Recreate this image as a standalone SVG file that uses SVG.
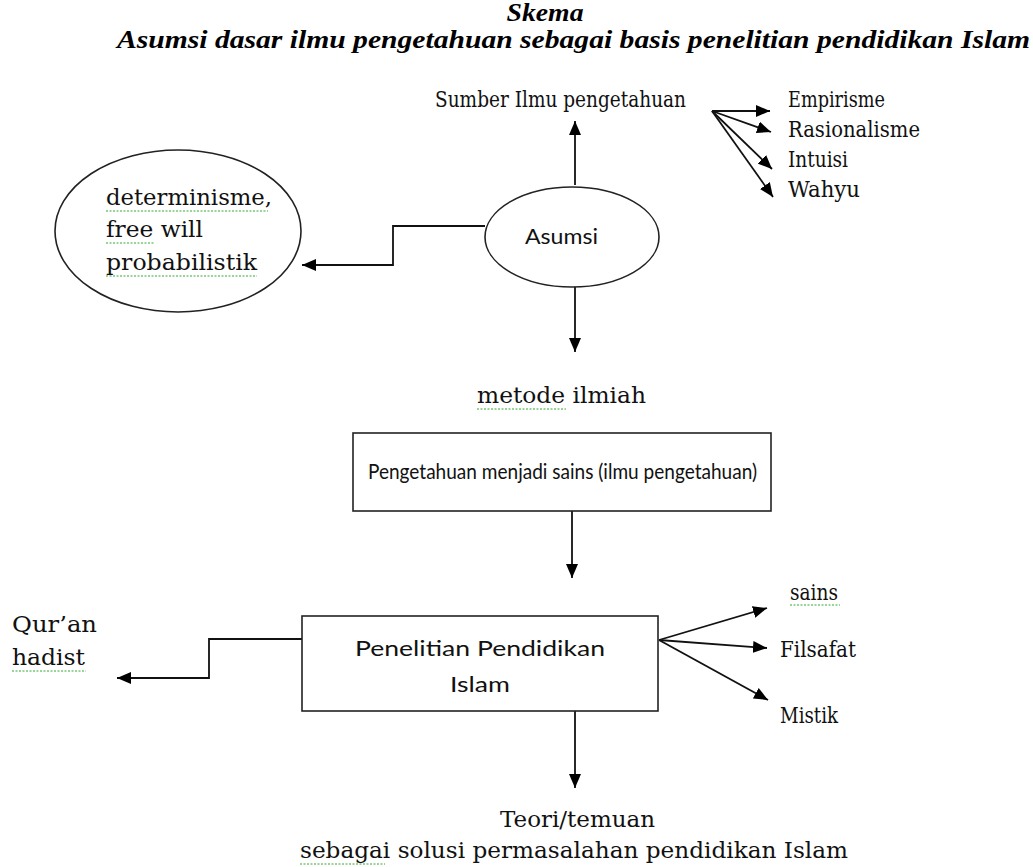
<svg xmlns="http://www.w3.org/2000/svg" width="1033" height="867" viewBox="0 0 1033 867">
<style>
.t{font-family:"DejaVu Serif","Liberation Serif",serif;font-size:22px;fill:#111}
.h{font-family:"Liberation Serif","Times New Roman",serif;font-size:25px;font-weight:bold;font-style:italic;fill:#000}
.s{font-family:Lato,"Open Sans","Liberation Sans",sans-serif;font-size:21px;fill:#111}
.n{fill:#fff;stroke:#222;stroke-width:1.6}
.c{fill:none;stroke:#111;stroke-width:1.8}
.sq{fill:none;stroke:#3a3;stroke-width:1;stroke-dasharray:2 1.5}
</style>
<defs>
<marker id="a" viewBox="0 0 14 12" refX="14" refY="6" markerWidth="14" markerHeight="12" markerUnits="userSpaceOnUse" orient="auto">
<path d="M0,0 L14,6 L0,12 Z" fill="#000"/>
</marker>
</defs>
<rect width="1033" height="867" fill="#fff"/>
<g id="title">
<text class="h" x="545" y="21" text-anchor="middle" textLength="77" lengthAdjust="spacingAndGlyphs">Skema</text>
<text class="h" x="117" y="48" textLength="913" lengthAdjust="spacingAndGlyphs">Asumsi dasar ilmu pengetahuan sebagai basis penelitian pendidikan Islam</text>
</g>
<g id="connectors">
<path class="c" d="M575,185 V121" marker-end="url(#a)"/>
<path class="c" d="M712,111 L770,111" marker-end="url(#a)"/>
<path class="c" d="M712,111 L771,132" marker-end="url(#a)"/>
<path class="c" d="M712,111 L772,169" marker-end="url(#a)"/>
<path class="c" d="M712,111 L773,197" marker-end="url(#a)"/>
<path class="c" d="M485,226 H393 V265 H302" marker-end="url(#a)"/>
<path class="c" d="M575,287 V352" marker-end="url(#a)"/>
<path class="c" d="M572,511 V578" marker-end="url(#a)"/>
<path class="c" d="M302,639 H209 V678 H117" marker-end="url(#a)"/>
<path class="c" d="M659,640 L767,608" marker-end="url(#a)"/>
<path class="c" d="M659,640 L767,648" marker-end="url(#a)"/>
<path class="c" d="M659,640 L768,700" marker-end="url(#a)"/>
<path class="c" d="M575,711 V788" marker-end="url(#a)"/>
</g>
<g id="sumber">
<text class="t" x="435" y="107" textLength="251" lengthAdjust="spacingAndGlyphs">Sumber Ilmu pengetahuan</text>
</g>
<g id="empirisme"><text class="t" x="788" y="107" textLength="97" lengthAdjust="spacingAndGlyphs">Empirisme</text></g>
<g id="rasionalisme"><text class="t" x="788" y="137" textLength="132" lengthAdjust="spacingAndGlyphs">Rasionalisme</text></g>
<g id="intuisi"><text class="t" x="788" y="167" textLength="60" lengthAdjust="spacingAndGlyphs">Intuisi</text></g>
<g id="wahyu"><text class="t" x="788" y="197" textLength="72" lengthAdjust="spacingAndGlyphs">Wahyu</text></g>
<g id="asumsi">
<ellipse class="n" cx="572" cy="237" rx="87" ry="50"/>
<text class="s" x="525" y="244" textLength="73" lengthAdjust="spacingAndGlyphs">Asumsi</text>
</g>
<g id="determinisme">
<ellipse class="n" cx="178" cy="231" rx="123" ry="81"/>
<text class="t" x="106" y="205" textLength="166" lengthAdjust="spacingAndGlyphs">determinisme,</text>
<text class="t" x="106" y="237" textLength="97" lengthAdjust="spacingAndGlyphs">free will</text>
<text class="t" x="106" y="270" textLength="151" lengthAdjust="spacingAndGlyphs">probabilistik</text>
<path class="sq" d="M106,211 H268 M106,243 H154 M106,276 H257"/>
</g>
<g id="metode">
<text class="t" x="477" y="403" textLength="169" lengthAdjust="spacingAndGlyphs">metode ilmiah</text>
<path class="sq" d="M477,409 H566"/>
</g>
<g id="pengetahuan">
<rect class="n" x="353" y="433" width="418" height="78"/>
<text class="s" x="368" y="479" textLength="389" lengthAdjust="spacingAndGlyphs">Pengetahuan menjadi sains (ilmu pengetahuan)</text>
</g>
<g id="penelitian">
<rect class="n" x="302" y="616" width="356" height="95"/>
<text class="s" x="355" y="656" textLength="250" lengthAdjust="spacingAndGlyphs">Penelitian Pendidikan</text>
<text class="s" x="450" y="692" textLength="60" lengthAdjust="spacingAndGlyphs">Islam</text>
</g>
<g id="quran">
<text class="t" x="12" y="632" textLength="85" lengthAdjust="spacingAndGlyphs">Qur’an</text>
<text class="t" x="12" y="665" textLength="73" lengthAdjust="spacingAndGlyphs">hadist</text>
<path class="sq" d="M12,671 H86"/>
</g>
<g id="sains"><text class="t" x="790" y="600" textLength="48" lengthAdjust="spacingAndGlyphs">sains</text><path class="sq" d="M790,605 H840"/></g>
<g id="filsafat"><text class="t" x="780" y="657" textLength="76" lengthAdjust="spacingAndGlyphs">Filsafat</text></g>
<g id="mistik"><text class="t" x="780" y="723" textLength="58" lengthAdjust="spacingAndGlyphs">Mistik</text></g>
<g id="teori">
<text class="t" x="500" y="827" textLength="155" lengthAdjust="spacingAndGlyphs">Teori/temuan</text>
<text class="t" x="300" y="858" textLength="548" lengthAdjust="spacingAndGlyphs">sebagai solusi permasalahan pendidikan Islam</text>
<path class="sq" d="M300,864 H385"/>
</g>
</svg>
